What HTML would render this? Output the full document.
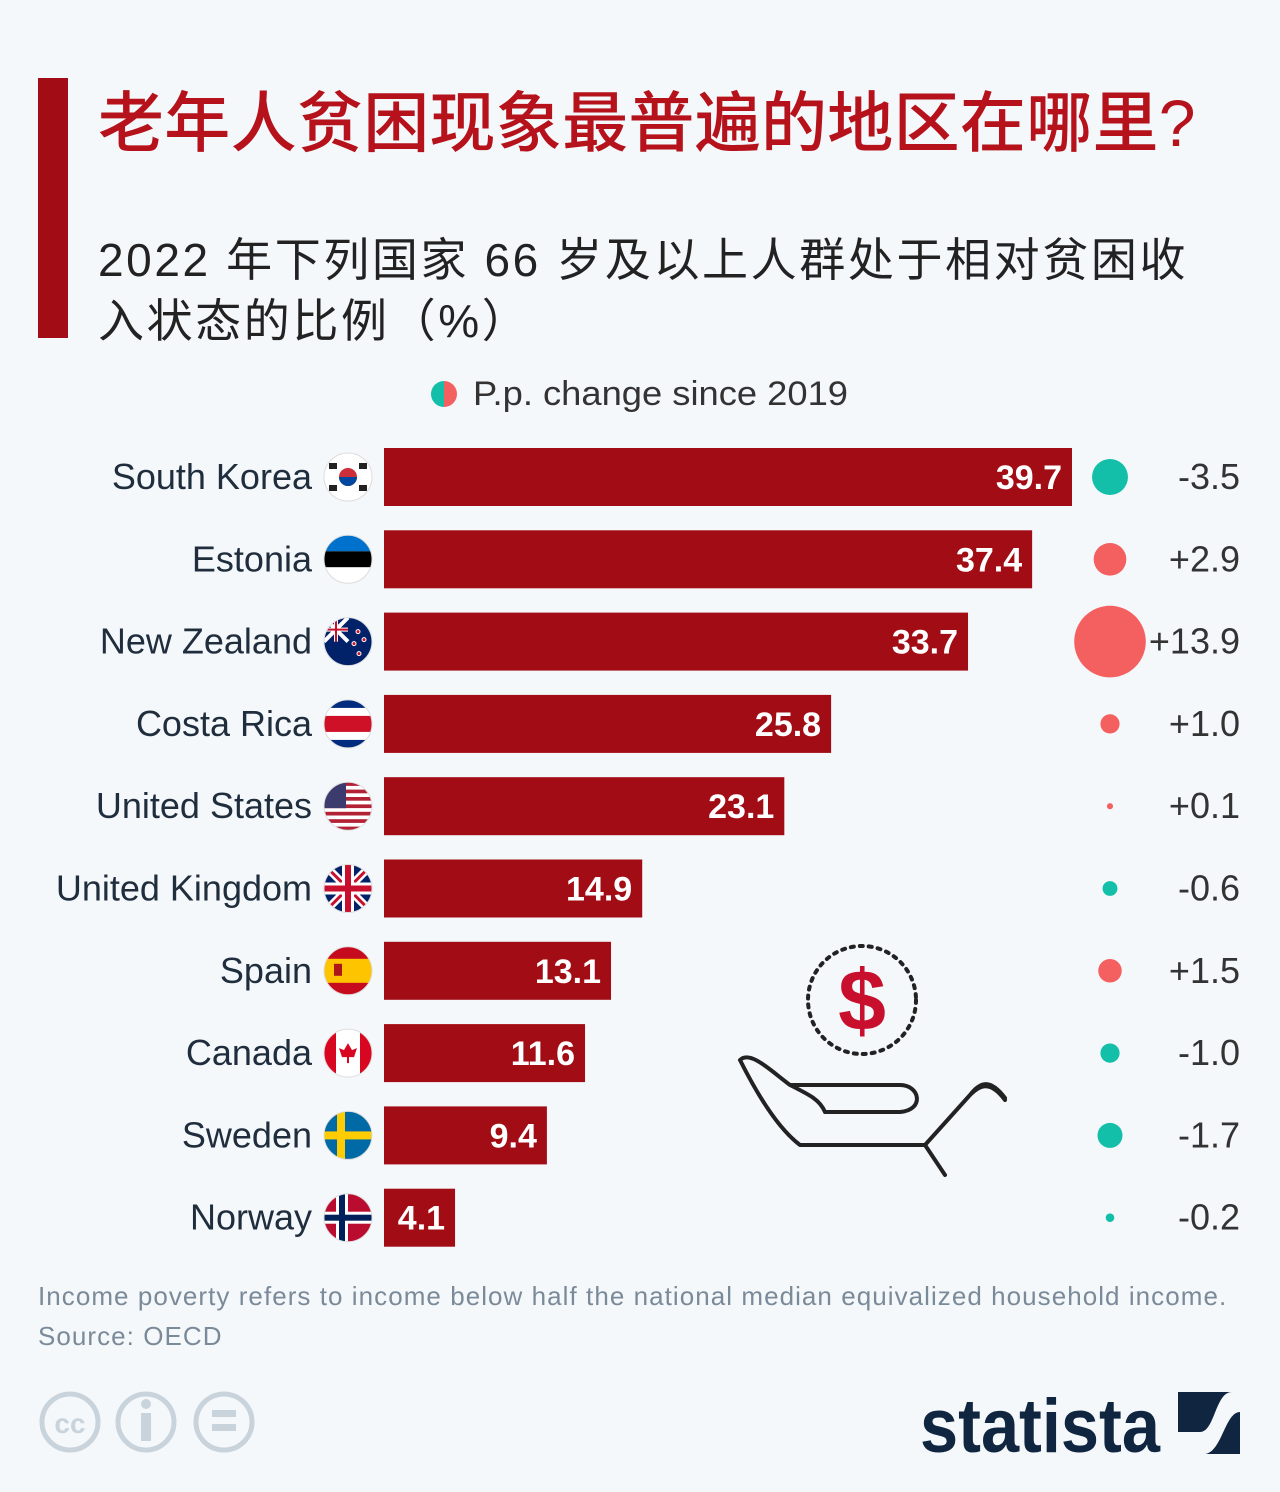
<!DOCTYPE html>
<html><head><meta charset="utf-8">
<style>
html,body{margin:0;padding:0;background:#f4f8fb;}
body{width:1280px;height:1492px;position:relative;overflow:hidden;font-family:"Liberation Sans","Noto Sans CJK SC",sans-serif;}
.abs{position:absolute;}
</style></head><body>
<div class="abs" style="left:38px;top:78px;width:30px;height:260px;background:#a20c14"></div>
<div class="abs" style="left:98px;top:70px;font-size:66px;color:#b5121b;font-weight:500;white-space:nowrap;letter-spacing:0.3px">老年人贫困现象最普遍的地区在哪里?</div>
<div class="abs" style="left:98px;top:230px;font-size:46px;color:#222;line-height:61px;width:1150px;white-space:nowrap;letter-spacing:2.6px">2022 年下列国家 66 岁及以上人群处于相对贫困收<br>入状态的比例（%）</div>
<svg class="abs" style="left:0;top:0" width="1280" height="1492" id="chart"></svg>
<div class="abs" style="left:38px;top:1276px;font-size:26px;color:#7b8a99;line-height:40px;letter-spacing:1.05px;white-space:nowrap">Income poverty refers to income below half the national median equivalized household income.<br>Source: OECD</div>
<script>
const countries=["South Korea","Estonia","New Zealand","Costa Rica","United States","United Kingdom","Spain","Canada","Sweden","Norway"];
const values=[39.7,37.4,33.7,25.8,23.1,14.9,13.1,11.6,9.4,4.1];
const changes=[-3.5,2.9,13.9,1.0,0.1,-0.6,1.5,-1.0,-1.7,-0.2];
const changeLabels=["-3.5","+2.9","+13.9","+1.0","+0.1","-0.6","+1.5","-1.0","-1.7","-0.2"];
const NS="http://www.w3.org/2000/svg";
const svg=document.getElementById('chart');
function mk(t,a,p){const e=document.createElementNS(NS,t);for(const k in a)e.setAttribute(k,a[k]);(p||svg).appendChild(e);return e;}
const x0=384,k=17.33;
const xs=v=>x0+v*k;
const ys=i=>477+i*82.3;
const rs=v=>9.6*Math.sqrt(Math.abs(v));
const lg=mk('g',{});


mk('path',{d:'M444,381 A13,13 0 0,0 444,407 Z',fill:'#14bfa9'},lg);
mk('path',{d:'M444,381 A13,13 0 0,1 444,407 Z',fill:'#f46060'},lg);
const lt=mk('text',{x:473,y:405,'font-size':34,fill:'#333',textLength:375,lengthAdjust:'spacingAndGlyphs'},lg);lt.textContent='P.p. change since 2019';
function flag(i,cx,cy){
  const g=mk('g',{});
  
  
  const id='c'+i;
  const cp=mk('clipPath',{id:id},g);mk('circle',{cx:cx,cy:cy,r:24},cp);
  const f=mk('g',{'clip-path':'url(#'+id+')'},g);
  const L=cx-24,T=cy-24,W=48;
  const R=(x,y,w,h,c)=>mk('rect',{x:L+x,y:T+y,width:w,height:h,fill:c},f);
  const n=countries[i];
  if(n=="South Korea"){R(0,0,W,W,'#fff');mk('circle',{cx:cx,cy:cy,r:9,fill:'#cd2e3a'},f);mk('path',{d:`M${cx-9},${cy} A9,9 0 0,0 ${cx+9},${cy} Z`,fill:'#0047a0'},f);
    [[-15,-11],[15,-11],[-15,11],[15,11]].forEach(p=>R(24+p[0]-4,24+p[1]-3,8,6,'#222'));}
  else if(n=="Estonia"){R(0,0,W,16,'#0072ce');R(0,16,W,16,'#000');R(0,32,W,16,'#fff');}
  else if(n=="New Zealand"){R(0,0,W,W,'#012169');mk('path',{d:`M${L},${T} L${L+24},${T+24} M${L+24},${T} L${L},${T+24}`,stroke:'#fff','stroke-width':4},f);R(10,0,4,24,'#fff');R(0,10,24,4,'#fff');R(11,0,2,24,'#c8102e');R(0,11,24,2,'#c8102e');
    [[34,14],[40,22],[30,26],[35,36]].forEach(p=>mk('circle',{cx:L+p[0],cy:T+p[1],r:2,fill:'#c8102e',stroke:'#fff','stroke-width':1},f));}
  else if(n=="Costa Rica"){R(0,0,W,W,'#fff');R(0,0,W,8,'#002b7f');R(0,40,W,8,'#002b7f');R(0,16,W,16,'#ce1126');}
  else if(n=="United States"){R(0,0,W,W,'#fff');for(let s=0;s<7;s++)R(0,s*7.4,W,3.7,'#b22234');R(0,0,22,26,'#3c3b6e');}
  else if(n=="United Kingdom"){R(0,0,W,W,'#012169');mk('path',{d:`M${L},${T} L${L+W},${T+W} M${L+W},${T} L${L},${T+W}`,stroke:'#fff','stroke-width':8},f);mk('path',{d:`M${L},${T} L${L+W},${T+W} M${L+W},${T} L${L},${T+W}`,stroke:'#c8102e','stroke-width':3},f);R(18,0,12,W,'#fff');R(0,18,W,12,'#fff');R(21,0,6,W,'#c8102e');R(0,21,W,6,'#c8102e');}
  else if(n=="Spain"){R(0,0,W,W,'#c60b1e');R(0,12,W,24,'#ffc400');R(10,17,8,12,'#ad1519');}
  else if(n=="Canada"){R(0,0,W,W,'#fff');R(0,0,12,W,'#d80621');R(36,0,12,W,'#d80621');mk('path',{d:`M${cx},${cy-10} L${cx+4},${cy-3} L${cx+9},${cy-5} L${cx+6},${cy+4} L${cx+1},${cy+4} L${cx+1},${cy+10} L${cx-1},${cy+10} L${cx-1},${cy+4} L${cx-6},${cy+4} L${cx-9},${cy-5} L${cx-4},${cy-3} Z`,fill:'#d80621'},f);}
  else if(n=="Sweden"){R(0,0,W,W,'#006aa7');R(13,0,8,W,'#fecc00');R(0,20,W,8,'#fecc00');}
  else if(n=="Norway"){R(0,0,W,W,'#ba0c2f');R(12,0,12,W,'#fff');R(0,18,W,12,'#fff');R(15,0,6,W,'#00205b');R(0,21,W,6,'#00205b');}
  mk('circle',{cx:cx,cy:cy,r:24,fill:'none',stroke:'#ddd','stroke-width':1},g);
}
countries.forEach((c,i)=>{
  const y=ys(i);
  const t=mk('text',{x:312,y:y+12,'text-anchor':'end','font-size':36,fill:'#1f2d3d'});t.textContent=c;
  
  
  flag(i,348,y);
  const b=mk('rect',{x:x0,y:y-29,width:xs(values[i])-x0,height:58,fill:'#a20c14'});
  
  
  const v=mk('text',{x:xs(values[i])-10,y:y+12,'text-anchor':'end','font-size':34,'font-weight':'bold',fill:'#fff'});v.textContent=values[i].toFixed(1);
  
  
  const d=mk('circle',{cx:1110,cy:y,r:rs(changes[i]),fill:changes[i]<0?'#14bfa9':'#f46060'});
  
  
  const ct=mk('text',{x:1240,y:y+12,'text-anchor':'end','font-size':36,fill:'#333'});ct.textContent=changeLabels[i];
  
  
});
const il=mk('g',{fill:'none',stroke:'#222','stroke-width':4,'stroke-linecap':'round','stroke-linejoin':'round'});


mk('circle',{cx:862,cy:1000,r:54,'stroke-dasharray':'3 6'},il);
mk('path',{d:'M740,1060 C760,1100 780,1130 800,1145 L925,1145 L970,1095 C980,1085 990,1080 1005,1100 M925,1145 L945,1175 M740,1060 C750,1050 770,1070 790,1085 L900,1085 C920,1085 925,1110 900,1112 L825,1112 M790,1085 C810,1095 820,1100 825,1112 M970,1095 C980,1082 990,1078 1005,1098'},il);
const ds=mk('text',{x:862,y:1030,'text-anchor':'middle','font-size':86,'font-weight':'bold',fill:'#c8102e'});ds.textContent='$';


const cc=mk('g',{});


[70,146,224].forEach(x=>mk('circle',{cx:x,cy:1422,r:28,fill:'none',stroke:'#c9d3dc','stroke-width':5},cc));
const cct=mk('text',{x:70,y:1433,'text-anchor':'middle','font-size':28,'font-weight':'bold',fill:'#c9d3dc'},cc);cct.textContent='cc';
mk('circle',{cx:146,cy:1404,r:5,fill:'#c9d3dc'},cc);mk('rect',{x:141,y:1413,width:10,height:28,fill:'#c9d3dc'},cc);
mk('rect',{x:212,y:1410,width:24,height:7,fill:'#c9d3dc'},cc);mk('rect',{x:212,y:1424,width:24,height:7,fill:'#c9d3dc'},cc);
const lo=mk('g',{});


const st=mk('text',{x:920,y:1452,'font-size':76,'font-weight':'bold',fill:'#0f2540',textLength:240,lengthAdjust:'spacingAndGlyphs'},lo);st.textContent='statista';
mk('rect',{x:1178,y:1392,width:62,height:62,fill:'#0f2540'},lo);
mk('path',{d:'M1178,1432 L1200,1432 C1215,1432 1215,1392 1232,1392 L1240,1392 L1240,1412 C1225,1412 1222,1452 1205,1454 L1178,1454 Z',fill:'#f4f8fb'},lo);
</script>
</body></html>
